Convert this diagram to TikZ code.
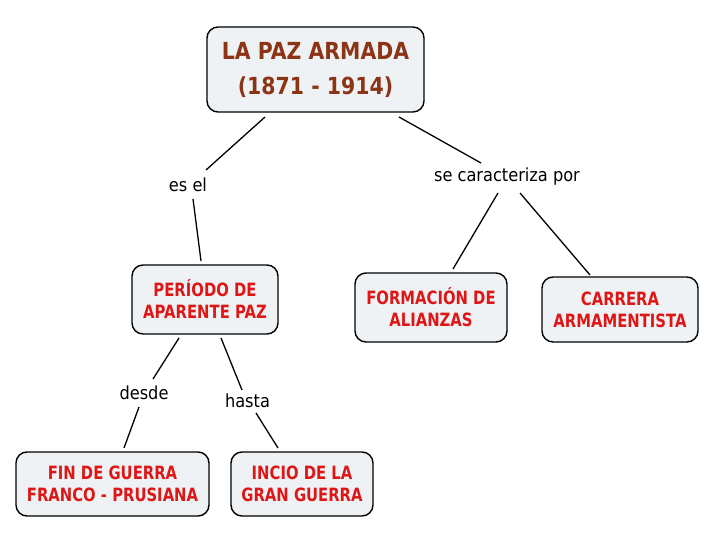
\documentclass[tikz,border=0pt]{standalone}
\usepackage{fontspec}
\setmainfont{DejaVu Sans}
\newfontfamily\titlefont[FakeStretch=0.87]{DejaVu Sans Bold}
\newfontfamily\boxfont[FakeStretch=0.81]{DejaVu Sans Bold}
\newfontfamily\labfont[FakeStretch=0.9]{DejaVu Sans}
\definecolor{titlecol}{RGB}{140,52,22}
\definecolor{boxred}{RGB}{222,22,22}
\definecolor{boxfill}{RGB}{238,242,245}
\tikzset{
  cbox/.style={draw=black, line width=1.4pt, fill=boxfill, rounded corners=11pt,
    align=center, inner sep=0pt},
  titletext/.style={font=\titlefont\fontsize{23.5}{35}\selectfont, text=titlecol},
  redtext/.style={font=\boxfont\fontsize{18.3}{22}\selectfont, text=boxred},
  lab/.style={font=\labfont\fontsize{18}{20}\selectfont, text=black, inner sep=1pt},
  conn/.style={draw=black, line width=1.3pt}
}
\begin{document}
\begin{tikzpicture}[x=1pt,y=-1pt]
\useasboundingbox[fill=white] (0,0) rectangle (720,540);
% boxes
\node[cbox, titletext, minimum width=217pt, minimum height=85pt] (title) at (315.5,69.5) {LA PAZ ARMADA\\(1871 - 1914)};
\node[cbox, redtext, minimum width=146pt, minimum height=69pt] (periodo) at (205,299.5) {PERÍODO DE\\APARENTE PAZ};
\node[cbox, redtext, minimum width=152pt, minimum height=69pt] (formacion) at (431,307.5) {FORMACIÓN DE\\ALIANZAS};
\node[cbox, redtext, minimum width=156pt, minimum height=65pt] (carrera) at (620,309.5) {CARRERA\\ARMAMENTISTA};
\node[cbox, redtext, minimum width=193pt, minimum height=64pt] (fin) at (112.5,484) {FIN DE GUERRA\\FRANCO - PRUSIANA};
\node[cbox, redtext, minimum width=142pt, minimum height=64pt] (incio) at (302,484) {INCIO DE LA\\GRAN GUERRA};
% labels
\node[lab] (esel) at (188,185) {es el};
\node[lab] (secar) at (507,177) {se caracteriza por};
\node[lab] (desde) at (144,393) {desde};
\node[lab] (hasta) at (247.5,401) {hasta};
% connector end points
\coordinate (c1a) at (265,117); \coordinate (c1b) at (206,170);
\coordinate (c2a) at (193,199); \coordinate (c2b) at (201,261);
\coordinate (c3a) at (399,117); \coordinate (c3b) at (481,163);
\coordinate (c4a) at (498,193); \coordinate (c4b) at (453,269);
\coordinate (c5a) at (520,193); \coordinate (c5b) at (590,275);
\coordinate (c6a) at (179,338); \coordinate (c6b) at (153,379);
\coordinate (c7a) at (139,407); \coordinate (c7b) at (124,448);
\coordinate (c8a) at (221,338); \coordinate (c8b) at (242,390);
\coordinate (c9a) at (256,413); \coordinate (c9b) at (278,448);
\draw[conn] (c1a) -- (c1b);
\draw[conn] (c2a) -- (c2b);
\draw[conn] (c3a) -- (c3b);
\draw[conn] (c4a) -- (c4b);
\draw[conn] (c5a) -- (c5b);
\draw[conn] (c6a) -- (c6b);
\draw[conn] (c7a) -- (c7b);
\draw[conn] (c8a) -- (c8b);
\draw[conn] (c9a) -- (c9b);
\end{tikzpicture}
\end{document}
